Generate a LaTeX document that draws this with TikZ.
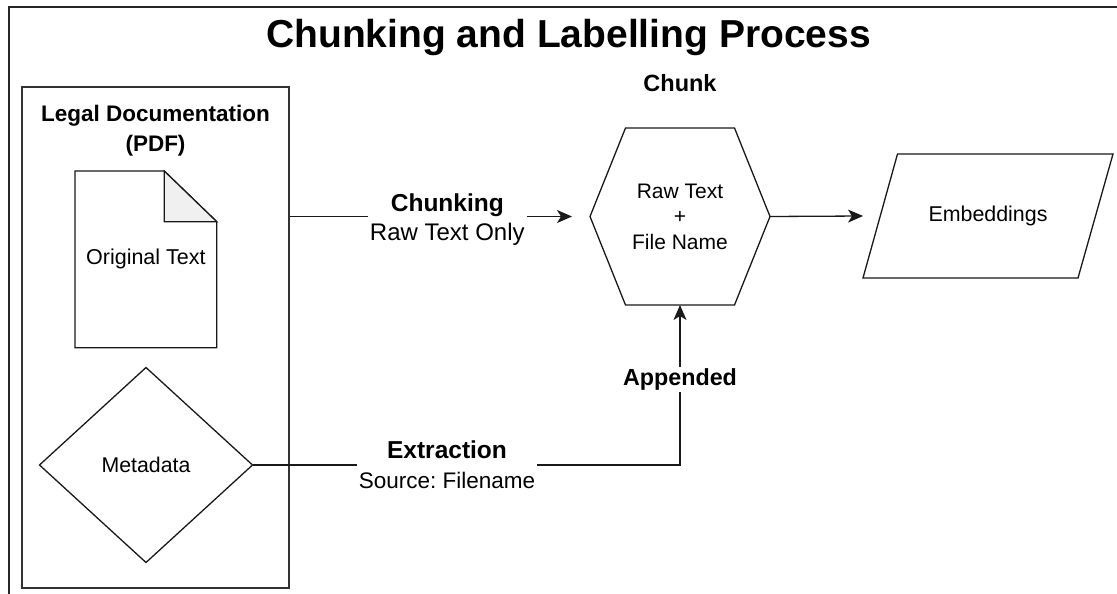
\documentclass[tikz,border=0pt]{standalone}
\usepackage{fontspec}
\setmainfont{Liberation Sans}
\usetikzlibrary{arrows.meta}
\newcommand\sz[2]{\fontsize{#1}{#2}\selectfont}
\frenchspacing
\begin{document}
\begin{tikzpicture}[x=1pt,y=-1pt,
  outline/.style={draw=black!90, line width=1.3pt, line join=miter},
  holder/.style={inner sep=0pt, outer sep=0pt, align=center},
  edgelbl/.style={fill=white, inner sep=2pt, align=center},
  conn/.style={draw=black!90, line width=1.3pt},
  arr/.style={conn, -{Stealth[length=15pt,width=13pt,inset=4pt]}}
]
\useasboundingbox (0,0) rectangle (1117,594);
\clip (0,0) rectangle (1117,594);

% outer frame (runs off the right and bottom edges)
\draw[line width=2pt, black!85] (8.6,7) rectangle (1140,620);

% title
\node[anchor=base, font=\bfseries\sz{39}{47}] (title) at (568.5,48) {Chunking and Labelling Process};

% container for the source document
\node[outline, draw=black!80, minimum width=267pt, minimum height=501pt, inner sep=0pt] (legal) at (155.5,337.5) {};
\node[holder, font=\bfseries\sz{22.5}{30}] (legaltitle) at (155.5,131) {Legal Documentation\\(PDF)};

% page with folded corner
\node[holder, minimum width=141.8pt, minimum height=176.7pt, font=\sz{21.5}{25}] (doc) at (145.9,259.4) {Original Text};
\draw[outline] (doc.north west) -- ([xshift=-52.5pt]doc.north east)
  -- ([yshift=-50.7pt]doc.north east) -- (doc.south east) -- (doc.south west) -- cycle;
\filldraw[outline, fill=gray!12] ([xshift=-52.5pt]doc.north east)
  -- ([xshift=-52.5pt,yshift=-50.7pt]doc.north east) -- ([yshift=-50.7pt]doc.north east) -- cycle;

% metadata diamond
\node[holder, minimum width=213pt, minimum height=195pt, font=\sz{21.3}{25}] (meta) at (146,465) {Metadata};
\draw[outline] (meta.west) -- (meta.north) -- (meta.east) -- (meta.south) -- cycle;

% chunk hexagon
\node[holder, font=\bfseries\sz{23.5}{27}] (chunklbl) at (680,83) {Chunk};
\node[holder, minimum width=180pt, minimum height=177pt, font=\sz{21}{25.5}] (chunk) at (680,216.5) {Raw Text\\+\\File Name};
\draw[outline] (chunk.west) -- ([xshift=-54.5pt]chunk.north) -- ([xshift=54.5pt]chunk.north)
  -- (chunk.east) -- ([xshift=54.5pt]chunk.south) -- ([xshift=-54.5pt]chunk.south) -- cycle;

% embeddings parallelogram
\node[holder, minimum width=250pt, minimum height=124pt, font=\sz{21.4}{25}] (emb) at (988,216) {Embeddings};
\draw[outline] ([xshift=34.5pt]emb.north west) -- (emb.north east)
  -- ([xshift=-35pt]emb.south east) -- (emb.south west) -- cycle;

% connectors
\draw[arr, shorten >=18pt] (legal.east |- chunk.west) -- node[edgelbl, pos=0.525, yshift=-3.5pt, font=\sz{24}{29}] (lblchunking)
  {{\bfseries\fontsize{24.5}{29}\selectfont Chunking}\\Raw Text Only} (chunk.west);
\draw[arr] (chunk.east) -- (emb.west);
\draw[arr] (meta.east) -| node[edgelbl, pos=0.2275, font=\sz{22.5}{30}] (lblextract)
  {{\bfseries\fontsize{24.5}{30}\selectfont Extraction}\\Source: Filename}
  node[edgelbl, pos=0.767, font=\bfseries\sz{23.3}{27}] (lblappend) {Appended} (chunk.south);
\end{tikzpicture}
\end{document}
